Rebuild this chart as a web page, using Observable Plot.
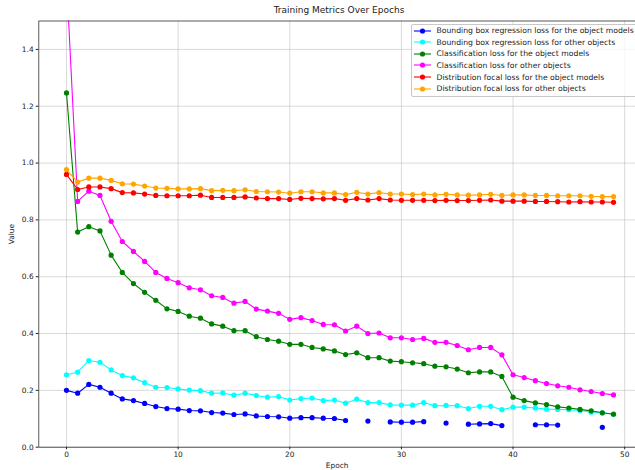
<!DOCTYPE html>
<html>
<head>
<meta charset="utf-8">
<script src="https://cdn.jsdelivr.net/npm/d3@7"></script>
<script src="https://cdn.jsdelivr.net/npm/@observablehq/plot@0.6"></script>
<style>
  body { margin: 0; background: #fff; font-family: "DejaVu Sans", sans-serif; }
  #wrap { position: relative; width: 635px; height: 470px; overflow: hidden; }
  #title { position: absolute; top: 5px; left: 339px; transform: translateX(-50%); font-size: 9px; color: #222; white-space: nowrap; }
  #legend { position: absolute; left: 411px; top: 23.7px; width: 240px; padding: 0 0 1px 0; background: rgba(255,255,255,0.8);
            border: 0.6px solid #c8c8c8; border-radius: 2px; font-size: 7.7px; color: #222; }
  .row { display: flex; align-items: center; height: 11.65px; white-space: nowrap; }
  .row svg { margin-left: 2px; margin-right: 5.5px; flex: none; }
</style>
</head>
<body>
<div id="wrap">
  <div id="chart"></div>
  <div id="title"></div>
  <div id="legend"></div>
</div>
<script>
const chartTitle = "Training Metrics Over Epochs";
const xLabel = "Epoch";
const yLabel = "Value";
const xTicks = [0, 10, 20, 30, 40, 50];
const yTicks = [0.0, 0.2, 0.4, 0.6, 0.8, 1.0, 1.2, 1.4];

const epochs = [0,1,2,3,4,5,6,7,8,9,10,11,12,13,14,15,16,17,18,19,20,21,22,23,24,
                25,26,27,28,29,30,31,32,33,34,35,36,37,38,39,40,41,42,43,44,45,46,47,48,49];

const seriesNames = [
  "Bounding box regression loss for the object models",
  "Bounding box regression loss for other objects",
  "Classification loss for the object models",
  "Classification loss for other objects",
  "Distribution focal loss for the object models",
  "Distribution focal loss for other objects"
];
const seriesColors = ["blue", "cyan", "green", "magenta", "red", "orange"];

const bboxObj = [0.200,0.190,0.221,0.211,0.190,0.170,0.164,0.154,0.143,0.136,
                 0.134,0.129,0.128,0.122,0.120,0.115,0.117,0.110,0.108,0.107,
                 0.102,0.104,0.104,0.102,0.101,0.094,null,0.092,null,0.089,
                 0.088,0.088,0.090,null,0.085,null,0.081,0.082,0.083,0.076,
                 null,null,0.079,0.079,0.078,null,null,null,0.070,null];
const bboxOther = [0.255,0.264,0.305,0.299,0.272,0.252,0.244,0.227,0.211,0.210,
                   0.205,0.201,0.199,0.190,0.191,0.183,0.190,0.182,0.176,0.178,
                   0.166,0.171,0.173,0.164,0.166,0.155,0.169,0.157,0.157,0.149,
                   0.148,0.148,0.157,0.146,0.147,0.146,0.136,0.144,0.144,0.132,
                   0.141,0.141,0.138,0.134,0.133,0.132,0.129,0.123,0.121,0.117];
const clsObj = [1.247,0.757,0.776,0.761,0.676,0.615,0.576,0.545,0.517,0.487,
                0.478,0.461,0.454,0.434,0.426,0.410,0.410,0.389,0.379,0.373,
                0.362,0.362,0.351,0.346,0.339,0.326,0.332,0.315,0.315,0.303,
                0.301,0.297,0.294,0.285,0.283,0.275,0.262,0.265,0.265,0.249,
                0.176,0.164,0.156,0.150,0.142,0.138,0.133,0.128,0.121,0.116];
const clsOther = [1.650,0.865,0.901,0.886,0.795,0.724,0.689,0.654,0.615,0.594,
                  0.579,0.561,0.554,0.533,0.527,0.507,0.513,0.486,0.479,0.471,
                  0.450,0.456,0.446,0.432,0.431,0.409,0.426,0.400,0.402,0.385,
                  0.385,0.379,0.383,0.369,0.369,0.358,0.343,0.351,0.351,0.325,
                  0.255,0.245,0.234,0.224,0.216,0.211,0.202,0.196,0.189,0.184];
const dflObj = [0.960,0.907,0.916,0.916,0.910,0.896,0.895,0.891,0.886,0.885,
                0.885,0.885,0.887,0.879,0.879,0.879,0.881,0.877,0.875,0.875,
                0.872,0.876,0.875,0.874,0.875,0.869,0.875,0.870,0.875,0.870,
                0.869,0.869,0.869,0.868,0.869,0.868,0.868,0.869,0.870,0.866,
                0.866,0.866,0.865,0.865,0.864,0.863,0.864,0.863,0.863,0.862];
const dflOther = [0.977,0.933,0.947,0.947,0.939,0.927,0.926,0.919,0.912,0.911,
                  0.909,0.909,0.910,0.903,0.904,0.903,0.906,0.900,0.899,0.898,
                  0.894,0.899,0.899,0.895,0.895,0.889,0.897,0.891,0.896,0.891,
                  0.891,0.889,0.891,0.888,0.890,0.888,0.887,0.888,0.890,0.886,
                  0.888,0.888,0.886,0.886,0.885,0.885,0.885,0.883,0.882,0.882];

const seriesValues = [bboxObj, bboxOther, clsObj, clsOther, dflObj, dflOther];

const marks = [
  Plot.gridX(xTicks, {stroke: "#b0b0b0", strokeOpacity: 0.6, strokeWidth: 0.8}),
  Plot.gridY(yTicks, {stroke: "#b0b0b0", strokeOpacity: 0.6, strokeWidth: 0.8})
];
seriesValues.forEach((vals, i) => {
  const rows = epochs.map((e, j) => ({epoch: e, value: vals[j]}));
  marks.push(Plot.line(rows, {x: "epoch", y: "value", stroke: seriesColors[i], strokeWidth: 1.1, clip: true}));
  marks.push(Plot.dot(rows.filter(d => d.value != null), {x: "epoch", y: "value", fill: seriesColors[i], r: 2.6, clip: true}));
});
marks.push(Plot.frame({stroke: "#333", strokeWidth: 0.8}));
marks.push(Plot.axisX(xTicks, {tickSize: 2.6, tickPadding: 2, fontSize: 7.4, label: xLabel, labelAnchor: "center", labelArrow: "none", labelOffset: 21, color: "#222"}));
marks.push(Plot.axisY(yTicks, {tickSize: 2.6, tickPadding: 2.6, fontSize: 7.4, tickFormat: d3.format(".1f"), label: yLabel, labelAnchor: "center", labelArrow: "none", labelOffset: 30, color: "#222"}));

const chart = Plot.plot({
  width: 635,
  height: 470,
  marginTop: 20.5,
  marginBottom: 23.3,
  marginLeft: 38.3,
  marginRight: 0,
  style: {fontFamily: "DejaVu Sans, sans-serif", fontSize: "7.4px", color: "#222", background: "#fff"},
  x: {domain: [-2.48, 50.97]},
  y: {domain: [0, 1.5]},
  marks
});
document.getElementById("chart").appendChild(chart);
document.getElementById("title").textContent = chartTitle;

const legend = document.getElementById("legend");
seriesNames.forEach((name, i) => {
  const row = document.createElement("div");
  row.className = "row";
  row.innerHTML = `<svg width="17" height="8"><line x1="0" x2="17" y1="4" y2="4" stroke="${seriesColors[i]}" stroke-width="1.1"/><circle cx="8.5" cy="4" r="2.6" fill="${seriesColors[i]}"/></svg><span></span>`;
  row.querySelector("span").textContent = name;
  legend.appendChild(row);
});
</script>
</body>
</html>
